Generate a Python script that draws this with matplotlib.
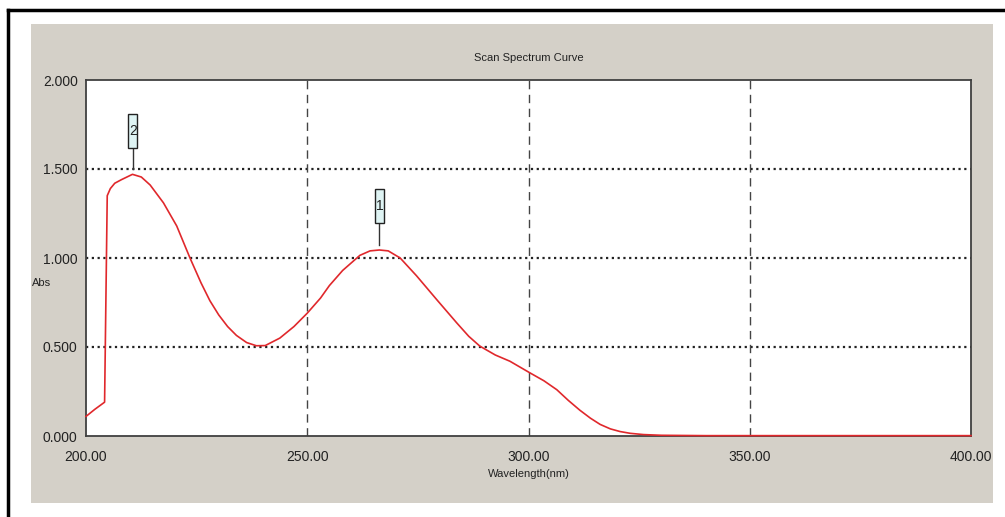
import matplotlib
matplotlib.use("Agg")
import matplotlib.pyplot as plt
from matplotlib.patches import Rectangle
from matplotlib.lines import Line2D

# scan data
wavelength = [200, 202, 204.2, 204.8, 205.5, 206.5, 208, 210.5, 212.5, 214.5,
              217.5, 220.5, 223.5, 226, 228, 230, 232, 234, 236.3, 238.5,
              240.5, 243.8, 247, 250, 253, 255, 258, 261.9, 264.2, 266.3,
              268.3, 271, 274.7, 279.3, 283.8, 286.5, 289, 292.5, 295.8, 300.3,
              303.5, 306.4, 309, 311.6, 314, 316.2, 318.5, 320.7, 323, 326,
              330, 340, 360, 380, 400]
absorbance = [0.11, 0.15, 0.19, 1.35, 1.39, 1.42, 1.44, 1.47, 1.455, 1.41,
              1.31, 1.18, 1.0, 0.86, 0.76, 0.68, 0.615, 0.565, 0.525, 0.507,
              0.508, 0.55, 0.615, 0.69, 0.775, 0.845, 0.93, 1.015, 1.04, 1.045,
              1.04, 1.0, 0.9, 0.765, 0.635, 0.56, 0.505, 0.455, 0.42, 0.355,
              0.31, 0.26, 0.2, 0.145, 0.1, 0.065, 0.04, 0.025, 0.015, 0.008,
              0.004, 0.002, 0.002, 0.002, 0.002]

peak_labels = ["1", "2"]
peak_wl = [266.3, 210.6]
peak_abs = [1.045, 1.47]

x_ticks = [200, 250, 300, 350, 400]
y_ticks = [0.0, 0.5, 1.0, 1.5, 2.0]

plt.rcParams['font.family'] = ['Liberation Sans Narrow', 'Liberation Sans', 'DejaVu Sans']

W, H = 1005, 517
fig = plt.figure(figsize=(W / 100, H / 100), dpi=100)
fig.patch.set_facecolor("white")

# outer frame (left and top) and grey panel
fig.add_artist(Line2D([8 / W, 8 / W], [0, 1 - 10 / H], color="black", lw=2.5))
fig.add_artist(Line2D([8 / W, 1], [1 - 10 / H, 1 - 10 / H], color="black", lw=2.5))
fig.add_artist(Rectangle((31 / W, 1 - 503 / H), (993 - 31) / W, (503 - 24) / H,
                         facecolor="#d4d0c8", edgecolor="none", zorder=0))

ax = fig.add_axes([86 / W, 1 - 436 / H, (971 - 86) / W, (436 - 80) / H])
ax.set_facecolor("white")

ax.plot(wavelength, absorbance, color="#e0282c", lw=1.2, zorder=5, clip_on=False)

ax.set_xlim(200, 400)
ax.set_ylim(0, 2)
ax.set_xticks(x_ticks)
ax.set_yticks(y_ticks)
ax.set_xticklabels([f"{v:.2f}" for v in x_ticks])
ax.set_yticklabels([f"{v:.3f}" for v in y_ticks])
ax.tick_params(length=0, labelsize=10, colors="#222222", pad=6)
ax.tick_params(axis="x", pad=10)

for y in y_ticks[1:-1]:
    ax.axhline(y, color="#222222", lw=1.6, linestyle=(0, (1, 1.6)), zorder=1)
for x in x_ticks[1:-1]:
    ax.axvline(x, color="#444444", lw=1.0, linestyle=(0, (6, 4)), zorder=1)

for s in ax.spines.values():
    s.set_color("#404040")
    s.set_linewidth(1.3)

ax.set_title("Scan Spectrum Curve", fontsize=8, color="#222222", pad=14)
ax.set_xlabel("Wavelength(nm)", fontsize=8, color="#222222", labelpad=4)
fig.text(31 / W + 0.001, 1 - 283 / H, "Abs", fontsize=8, color="#222222",
         va="center", ha="left")

# peak markers
box_w = 2.0
box_h = 0.19
for lab, px, py in zip(peak_labels, peak_wl, peak_abs):
    stem_bottom = py + 0.03
    stem_top = py + 0.15
    ax.plot([px, px], [stem_bottom, stem_top], color="#333333", lw=1.0, zorder=6)
    ax.add_patch(Rectangle((px - box_w / 2, stem_top), box_w, box_h,
                           facecolor="#dff4f4", edgecolor="#222222", lw=1.0, zorder=6))
    ax.text(px, stem_top + box_h / 2, lab, ha="center", va="center",
            fontsize=10, color="#222222", zorder=7)

fig.savefig("out.png", dpi=100)
